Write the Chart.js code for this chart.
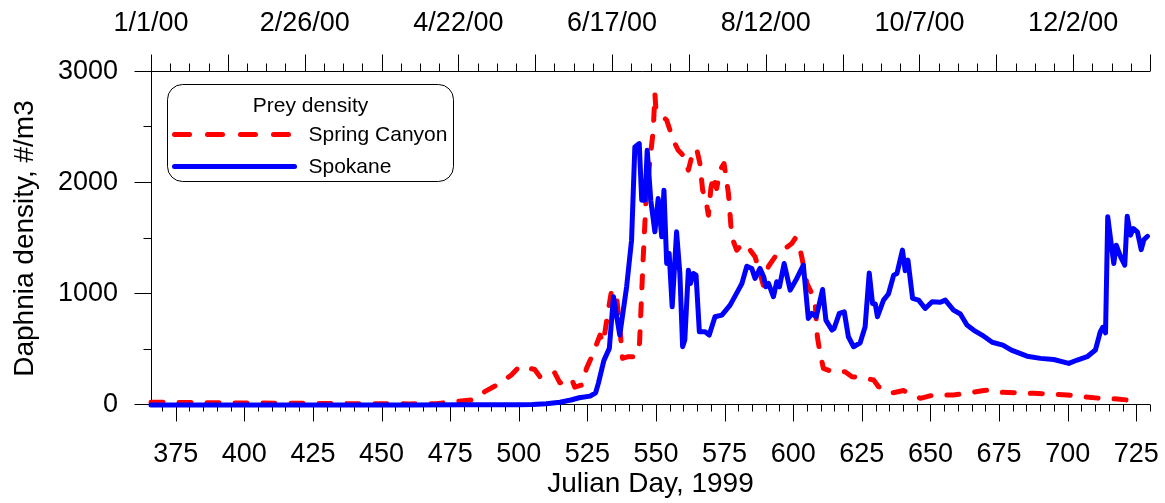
<!DOCTYPE html>
<html>
<head>
<meta charset="utf-8">
<title>Prey density</title>
<script src="https://cdn.jsdelivr.net/npm/chart.js@4.4.1/dist/chart.umd.min.js"></script>
<style>
  html, body { margin: 0; padding: 0; background: #fff; }
  #chart { display: block; }
</style>
</head>
<body>
<canvas id="chart" width="1165" height="503"></canvas>
<script>
// Julian day (1999 count) and Daphnia density (#/m3)
const canyonDays = [366, 380, 400, 420, 440, 460, 470, 476, 482.7, 487.6, 492.4, 497.3, 500.4, 505.8, 507.7,
  510.1, 513.1, 515, 519.2, 520.4, 522.9, 524.7, 527.1, 529.6, 530.8, 532.6, 533.8, 535.5, 536.9, 537.8,
  539.9, 542.3, 544, 545.3, 546.3, 547.8, 549, 549.6, 550, 551.4, 552.6, 553.9, 556.3, 558.1, 559.9,
  561.8, 563, 564.8, 566, 567, 568.2, 569.1, 570, 570.9, 572.1, 573.3, 574.8, 576.4, 577.6, 579.4,
  581.8, 584.3, 586.1, 587.9, 589.1, 591, 593.4, 597, 599.5, 600.7, 601.9, 603.1, 605, 606.8, 608,
  608.8, 609.8, 611, 615.3, 618.9, 621.4, 626.2, 629.3, 631.1, 635.4, 640.2, 646.3, 651.2, 658.4,
  663.3, 669.4, 671.8, 676.1, 682, 687.6, 693.7, 699.8, 705.9, 711.9, 718, 721.7, 724.4];
const canyonDensity = [25, 22, 18, 15, 12, 10, 12, 30, 45, 120, 185, 270, 350, 320, 255,
  250, 290, 200, 240, 160, 180, 330, 465, 630, 560, 850, 1030, 1005, 675, 420,
  435, 435, 555, 1305, 1815, 2205, 2475, 2805, 2655, 2625, 2595, 2565, 2385, 2295, 2250,
  2115, 2235, 2310, 2175, 1935, 1845, 1710, 1950, 2070, 1950, 2115, 2175, 1905, 1515, 1395,
  1455, 1395, 1335, 1185, 1080, 1250, 1335, 1410, 1455, 1500, 1470, 1335, 1095, 1005, 915,
  615, 465, 330, 290, 300, 255, 240, 225, 165, 105, 130, 60, 90, 90,
  105, 130, 135, 115, 110, 105, 100, 90, 75, 60, 55, 45, 30];

const spokaneDays = [366, 380, 400, 420, 440, 460, 480, 500, 505, 510, 515, 519, 522, 526, 528,
  529, 531, 533, 534.5, 536.8, 539.3, 541.1, 542.3, 543.9, 544.8, 546, 546.8, 548.1, 549.6, 550.8,
  552.1, 552.9, 553.9, 554.8, 555.9, 557.5, 558.7, 559.7, 560.5, 561.8, 562.6, 563.6, 564.6, 565.8, 567.9,
  569.4, 571.5, 574, 577, 580, 581.3, 583.1, 584.9, 586.1, 587.9, 589.3, 590, 591, 592.8, 594,
  595, 596.7, 598.9, 601.3, 603.7, 605.5, 606.8, 608.4, 610.7, 611.9, 614.1, 614.9, 616.8, 618.6, 620.1,
  622, 624.4, 626.2, 627.7, 628.9, 629.9, 630.7, 632.9, 634.7, 636.6, 637.8, 639.8, 640.8, 641.8, 643.5,
  645.7, 648.1, 650.6, 653.6, 655.4, 658.4, 660.9, 663.3, 665.7, 668.8, 672.5, 676.4, 679.5, 685.2, 690.1,
  694.9, 700.4, 703.5, 707.1, 710.1, 711.9, 712.8, 713.8, 714.6, 716.8, 717.7, 719.3, 720.8, 721.7, 722.9,
  723.9, 725.4, 726.8, 727.8, 729.1];
const spokaneDensity = [0, 0, 0, 0, 0, 0, 2, 3, 5, 12, 25, 45, 65, 80, 110,
  195, 400, 510, 975, 630, 1065, 1485, 2325, 2355, 1845, 1845, 2295, 1845, 1560, 1860,
  1515, 1935, 1275, 1365, 885, 1560, 1185, 525, 585, 1215, 1095, 1185, 1170, 660, 660,
  630, 795, 810, 900, 1035, 1095, 1250, 1230, 1140, 1230, 1150, 1065, 1095, 975, 1110,
  1065, 1275, 1035, 1140, 1260, 780, 825, 795, 1040, 765, 675, 690, 825, 840, 615,
  525, 560, 705, 1190, 915, 910, 795, 945, 1000, 1170, 1185, 1395, 1210, 1305, 960,
  945, 870, 930, 925, 945, 855, 820, 720, 675, 630, 565, 540, 495, 440, 420,
  410, 375, 405, 435, 495, 660, 700, 650, 1695, 1275, 1440, 1335, 1260, 1700, 1530,
  1590, 1560, 1400, 1490, 1520];

// axis ticks
const dayTicks = [375, 400, 425, 450, 475, 500, 525, 550, 575, 600, 625, 650, 675, 700, 725];
const dateTickDays = [366, 422, 478, 534, 590, 646, 702];
const dateLabels = ['1/1/00', '2/26/00', '4/22/00', '6/17/00', '8/12/00', '10/7/00', '12/2/00'];
const densityTicks = [0, 1000, 2000, 3000];

const FONT = '"Liberation Sans", Arial, sans-serif';
const legendTitle = 'Prey density';

// hand-drawn axis frame with major/minor tick marks
const axisFrame = {
  id: 'axisFrame',
  beforeDatasetsDraw(chart) {
    const {ctx, chartArea: a, scales: {x, x2, y}} = chart;
    const top = Math.round(a.top) - 0.5;
    const bot = Math.round(a.bottom) - 0.5;
    const lft = Math.round(a.left) + 0.5;
    ctx.save();
    ctx.strokeStyle = '#000';
    ctx.lineWidth = 1;
    ctx.beginPath();
    ctx.moveTo(lft - 17, top); ctx.lineTo(a.right, top);
    ctx.moveTo(lft - 17, bot); ctx.lineTo(a.right, bot);
    ctx.moveTo(lft, top); ctx.lineTo(lft, bot);
    for (let d = 370; d <= 730; d += 5) {
      const px = Math.round(x.getPixelForValue(d)) + 0.5;
      ctx.moveTo(px, bot);
      ctx.lineTo(px, bot + (d % 25 === 0 ? 17 : 7));
    }
    for (let d = 366; d <= 730; d += 7) {
      const px = Math.round(x2.getPixelForValue(d)) + 0.5;
      ctx.moveTo(px, top);
      ctx.lineTo(px, top - ((d - 366) % 28 === 0 ? 17 : 8));
    }
    for (let v = 500; v < 3000; v += 500) {
      const py = Math.round(y.getPixelForValue(v)) - 0.5;
      ctx.moveTo(lft, py);
      ctx.lineTo(lft - (v % 1000 === 0 ? 17 : 8), py);
    }
    ctx.stroke();
    ctx.restore();
  }
};

// rounded legend box with title
const boxLegend = {
  id: 'boxLegend',
  afterDraw(chart) {
    const {ctx, chartArea: a} = chart;
    const bx = Math.round(a.left) + 16.5, by = Math.round(a.top) + 12.5;
    ctx.save();
    ctx.beginPath();
    ctx.roundRect(bx, by, 286, 97, 15);
    ctx.fillStyle = '#fff';
    ctx.fill();
    ctx.strokeStyle = '#000';
    ctx.lineWidth = 1;
    ctx.stroke();

    ctx.fillStyle = '#000';
    ctx.font = '21px ' + FONT;
    ctx.textBaseline = 'middle';
    ctx.textAlign = 'center';
    ctx.fillText(legendTitle, bx + 143, by + 22);

    ctx.textAlign = 'left';
    chart.data.datasets.forEach((ds, i) => {
      const ly = by + 50 + i * 32;
      ctx.beginPath();
      ctx.strokeStyle = ds.borderColor;
      ctx.lineWidth = 5;
      ctx.lineCap = 'round';
      ctx.setLineDash(ds.borderDash ? [15, 18] : []);
      ctx.moveTo(bx + 7, ly);
      ctx.lineTo(bx + 127, ly);
      ctx.stroke();
      ctx.setLineDash([]);
      ctx.fillText(ds.label, bx + 141, ly + 1);
    });
    ctx.restore();
  }
};

const tickFont = {family: FONT, size: 27};
const titleFont = {family: FONT, size: 28};

new Chart(document.getElementById('chart'), {
  type: 'line',
  data: {
    datasets: [{
      label: 'Spring Canyon',
      data: canyonDays.map((d, i) => ({x: d, y: canyonDensity[i]})),
      borderColor: '#ff0000',
      borderWidth: 5,
      borderDash: [12, 16],
      borderCapStyle: 'round',
      borderJoinStyle: 'round',
      pointRadius: 0,
      tension: 0,
      clip: false,
      order: 1
    }, {
      label: 'Spokane',
      data: spokaneDays.map((d, i) => ({x: d, y: spokaneDensity[i]})),
      borderColor: '#0000ff',
      borderWidth: 5,
      borderCapStyle: 'round',
      borderJoinStyle: 'round',
      pointRadius: 0,
      tension: 0,
      clip: false,
      order: 0
    }]
  },
  options: {
    responsive: false,
    animation: false,
    events: [],
    layout: {padding: {left: 0, right: 15, top: 0, bottom: 0}},
    plugins: {legend: {display: false}, tooltip: {enabled: false}},
    scales: {
      x: {
        type: 'linear',
        position: 'bottom',
        min: 366,
        max: 730,
        afterBuildTicks: s => { s.ticks = dayTicks.map(v => ({value: v})); },
        afterFit: s => { s.height = 98; },
        grid: {display: false, drawTicks: true, tickLength: 33},
        border: {display: false},
        ticks: {font: tickFont, color: '#000', padding: 0, maxRotation: 0, autoSkip: false, callback: v => String(v)},
        title: {display: true, text: 'Julian Day, 1999', font: titleFont, color: '#000', padding: {top: 0, bottom: 2}}
      },
      x2: {
        type: 'linear',
        position: 'top',
        min: 366,
        max: 730,
        afterBuildTicks: s => { s.ticks = dateTickDays.map(v => ({value: v})); },
        afterFit: s => { s.height = 72; },
        grid: {display: false, drawTicks: true, tickLength: 32},
        border: {display: false},
        ticks: {
          font: tickFont, color: '#000', padding: 0, maxRotation: 0, autoSkip: false,
          callback: v => dateLabels[dateTickDays.indexOf(v)]
        }
      },
      y: {
        type: 'linear',
        min: 0,
        max: 3000,
        afterBuildTicks: s => { s.ticks = densityTicks.map(v => ({value: v})); },
        afterFit: s => { s.width = 151; },
        grid: {display: false, drawTicks: true, tickLength: 33},
        border: {display: false},
        ticks: {font: tickFont, color: '#000', padding: 0, callback: v => String(v)},
        title: {display: true, text: 'Daphnia density, #/m3', font: titleFont, color: '#000', padding: {top: 8, bottom: 0}}
      }
    }
  },
  plugins: [axisFrame, boxLegend]
});
</script>
</body>
</html>
